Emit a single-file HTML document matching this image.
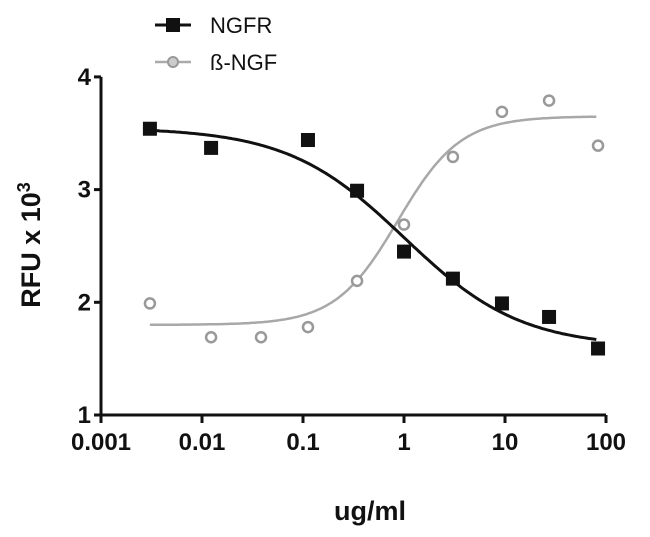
<!DOCTYPE html>
<html><head><meta charset="utf-8"><style>
html,body{margin:0;padding:0;background:#fff;}
svg{display:block;font-family:"Liberation Sans",Arial,sans-serif;}
</style></head><body>
<svg id="chart" width="650" height="537" viewBox="0 0 650 537">
<g id="axes"></g><g id="series"></g><g id="legend"></g>
</svg>
<script>
const xTicks = [0.001, 0.01, 0.1, 1, 10, 100];
const xTickLabels = ["0.001", "0.01", "0.1", "1", "10", "100"];
const yTicks = [1, 2, 3, 4];
const yTickLabels = ["1", "2", "3", "4"];
const ngfrX = [0.00305, 0.0123, 0.112, 0.343, 1.0, 3.05, 9.33, 27.3, 83.4];
const ngfrY = [3.54, 3.37, 3.44, 2.99, 2.45, 2.21, 1.99, 1.87, 1.59];
const ngfX = [0.00305, 0.0123, 0.0384, 0.112, 0.343, 1.0, 3.05, 9.33, 27.3, 83.4];
const ngfY = [1.99, 1.69, 1.69, 1.78, 2.19, 2.69, 3.29, 3.69, 3.79, 3.39];
const ngfrFit = [3.55, 1.6, 0.0, 0.75];   // top, bottom, logEC50, hill
const ngfFit = [3.65, 1.8, -0.06, 1.4];

const NS = "http://www.w3.org/2000/svg";
const X0 = 101, DEC = 101, Y1 = 415, UNIT = 112.7;
function xs(v){ return X0 + (Math.log10(v) + 3) * DEC; }
function ys(v){ return Y1 - (v - 1) * UNIT; }
function mk(tag, attrs, parent){ const e = document.createElementNS(NS, tag); for (const k in attrs) e.setAttribute(k, attrs[k]); parent.appendChild(e); return e; }
const axes = document.getElementById('axes'), series = document.getElementById('series'), legend = document.getElementById('legend');

let e = mk('line', {x1: X0, y1: ys(4), x2: X0, y2: Y1, stroke: '#111', 'stroke-width': 3}, axes);


e = mk('line', {x1: X0, y1: Y1, x2: xs(100), y2: Y1, stroke: '#111', 'stroke-width': 3}, axes);


yTicks.forEach((t, i) => {
  const l = mk('line', {x1: X0 - 7, y1: ys(t), x2: X0, y2: ys(t), stroke: '#111', 'stroke-width': 3}, axes);
  
  
  const tx = mk('text', {x: X0 - 10, y: ys(t) + 8, 'text-anchor': 'end', 'font-size': 24, 'font-weight': 'bold', fill: '#111'}, axes);
  tx.textContent = yTickLabels[i];
  
  
});
xTicks.forEach((t, i) => {
  const l = mk('line', {x1: xs(t), y1: Y1, x2: xs(t), y2: Y1 + 8, stroke: '#111', 'stroke-width': 3}, axes);
  
  
  const tx = mk('text', {x: xs(t), y: Y1 + 35, 'text-anchor': 'middle', 'font-size': 24, 'font-weight': 'bold', fill: '#111'}, axes);
  tx.textContent = xTickLabels[i];
  
  
});
e = mk('text', {x: 370, y: 520, 'text-anchor': 'middle', 'font-size': 27, 'font-weight': 'bold', fill: '#111'}, axes);
e.textContent = 'ug/ml';


e = mk('text', {x: 0, y: 0, transform: 'translate(40,245) rotate(-90)', 'text-anchor': 'middle', 'font-size': 27, 'font-weight': 'bold', fill: '#111'}, axes);
e.innerHTML = 'RFU x 10<tspan dy="-10" font-size="18">3</tspan>';



function fit2(p, increasing){
  const [top, bot, ec, h] = p; let d = '';
  const hh = Math.abs(h);
  for (let lx = Math.log10(0.00305); lx <= Math.log10(83.4) + 1e-9; lx += 0.02) {
    const z = increasing ? (ec - lx) * hh : (lx - ec) * hh;
    const y = bot + (top - bot) / (1 + Math.pow(10, z));
    d += (d ? 'L' : 'M') + xs(Math.pow(10, lx)).toFixed(1) + ',' + ys(y).toFixed(1);
  }
  return d;
}
e = mk('path', {d: fit2(ngfFit, true), fill: 'none', stroke: '#a8a8a8', 'stroke-width': 2.5}, series);


e = mk('path', {d: fit2(ngfrFit, false), fill: 'none', stroke: '#111', 'stroke-width': 3}, series);


ngfX.forEach((x, i) => {
  const c = mk('circle', {cx: xs(x), cy: ys(ngfY[i]), r: 5, fill: '#fff', stroke: '#999', 'stroke-width': 2.5}, series);
  
  
});
ngfrX.forEach((x, i) => {
  const r = mk('rect', {x: xs(x) - 7, y: ys(ngfrY[i]) - 7, width: 14, height: 14, fill: '#111'}, series);
  
  
});

e = mk('line', {x1: 155, y1: 25, x2: 191, y2: 25, stroke: '#111', 'stroke-width': 3}, legend);


e = mk('rect', {x: 166, y: 18, width: 14, height: 14, fill: '#111'}, legend);


e = mk('text', {x: 210, y: 33, 'font-size': 22, fill: '#111'}, legend);
e.textContent = 'NGFR';


e = mk('line', {x1: 155, y1: 62, x2: 191, y2: 62, stroke: '#aaa', 'stroke-width': 2.5}, legend);


e = mk('circle', {cx: 173, cy: 62, r: 5, fill: '#ccc', stroke: '#999', 'stroke-width': 2}, legend);


e = mk('text', {x: 210, y: 70, 'font-size': 22, fill: '#111'}, legend);
e.textContent = 'ß-NGF';


</script>
</body></html>
